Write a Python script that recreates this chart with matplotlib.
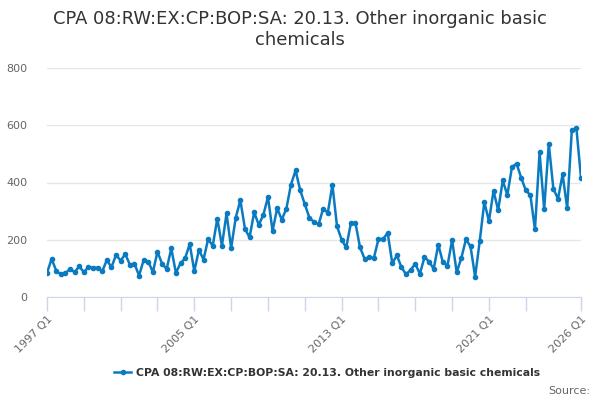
import matplotlib
matplotlib.use("Agg")
import matplotlib.pyplot as plt
import numpy as np

title = "CPA 08:RW:EX:CP:BOP:SA: 20.13. Other inorganic basic\nchemicals"
series_name = "CPA 08:RW:EX:CP:BOP:SA: 20.13. Other inorganic basic chemicals"

start_year = 1997
end_year = 2026

values = [
    84, 133, 92, 79, 83, 98, 87, 107, 87, 104, 103, 102, 90, 129, 104, 147,
    127, 150, 113, 116, 75, 129, 124, 87, 158, 116, 98, 170, 84, 118, 135, 185,
    90, 165, 131, 202, 179, 274, 179, 292, 171, 277, 338, 239, 208, 296, 252, 287,
    349, 231, 310, 270, 309, 393, 442, 373, 324, 277, 262, 254, 309, 294, 392, 247,
    200, 173, 257, 259, 173, 133, 139, 136, 202, 202, 224, 118, 145, 104, 79, 95,
    116, 81, 139, 124, 98, 183, 121, 110, 199, 86, 136, 201, 177, 71, 195, 332,
    265, 371, 303, 407, 356, 454, 466, 417, 373, 356, 236, 505, 307, 535, 378, 343,
    428, 311, 582, 590, 416,
]

labels = []
for y in range(start_year, end_year + 1):
    for q in range(1, 5):
        labels.append(f"{y} Q{q}")
labels = labels[:len(values)]

tick_labels_shown = ["1997 Q1", "2005 Q1", "2013 Q1", "2021 Q1", "2026 Q1"]
tick_positions = [labels.index(f"{y} Q1") for y in range(1997, 2024, 2)] + [labels.index("2026 Q1")]

fig = plt.figure(figsize=(6, 4), dpi=100)
ax = fig.add_axes([47/600, 1-297/400, (581-47)/600, (297-68)/400])

x = np.arange(len(values))
line_color = "#0a7bc1"
ax.plot(x, values, color=line_color, lw=1.8, marker="o", ms=3.0, label=series_name, zorder=3)

ax.set_xlim(0, len(values) - 1)
ax.set_ylim(0, 800)
ax.set_yticks([0, 200, 400, 600, 800])
ax.yaxis.grid(True, color="#e6e6e6", lw=1)
ax.set_axisbelow(True)

ax.set_xticks(tick_positions)
ax.set_xticklabels([labels[p] if labels[p] in tick_labels_shown else "" for p in tick_positions],
                   rotation=45, ha="right", rotation_mode="anchor")
ax.tick_params(axis="x", colors="#ccd6eb", length=10, width=1, labelcolor="#666666", labelsize=8, pad=2)
ax.tick_params(axis="y", length=0, labelcolor="#666666", labelsize=8, pad=14)

for s in ["top", "right", "left"]:
    ax.spines[s].set_visible(False)
ax.spines["bottom"].set_color("#ccd6eb")

fig.suptitle(title, fontsize=12.9, color="#333333", y=0.975, linespacing=1.2)

leg = fig.legend(loc="center", bbox_to_anchor=(327/600, 1-373/400), frameon=False,
                 prop={"size": 7.8, "weight": "bold"}, handlelength=1.6, handletextpad=0.4)
for t in leg.get_texts():
    t.set_color("#333333")

fig.text(0.983, 1-391/400, "Source:", ha="right", va="center", fontsize=8, color="#666666")

fig.savefig("out.png", dpi=100)
